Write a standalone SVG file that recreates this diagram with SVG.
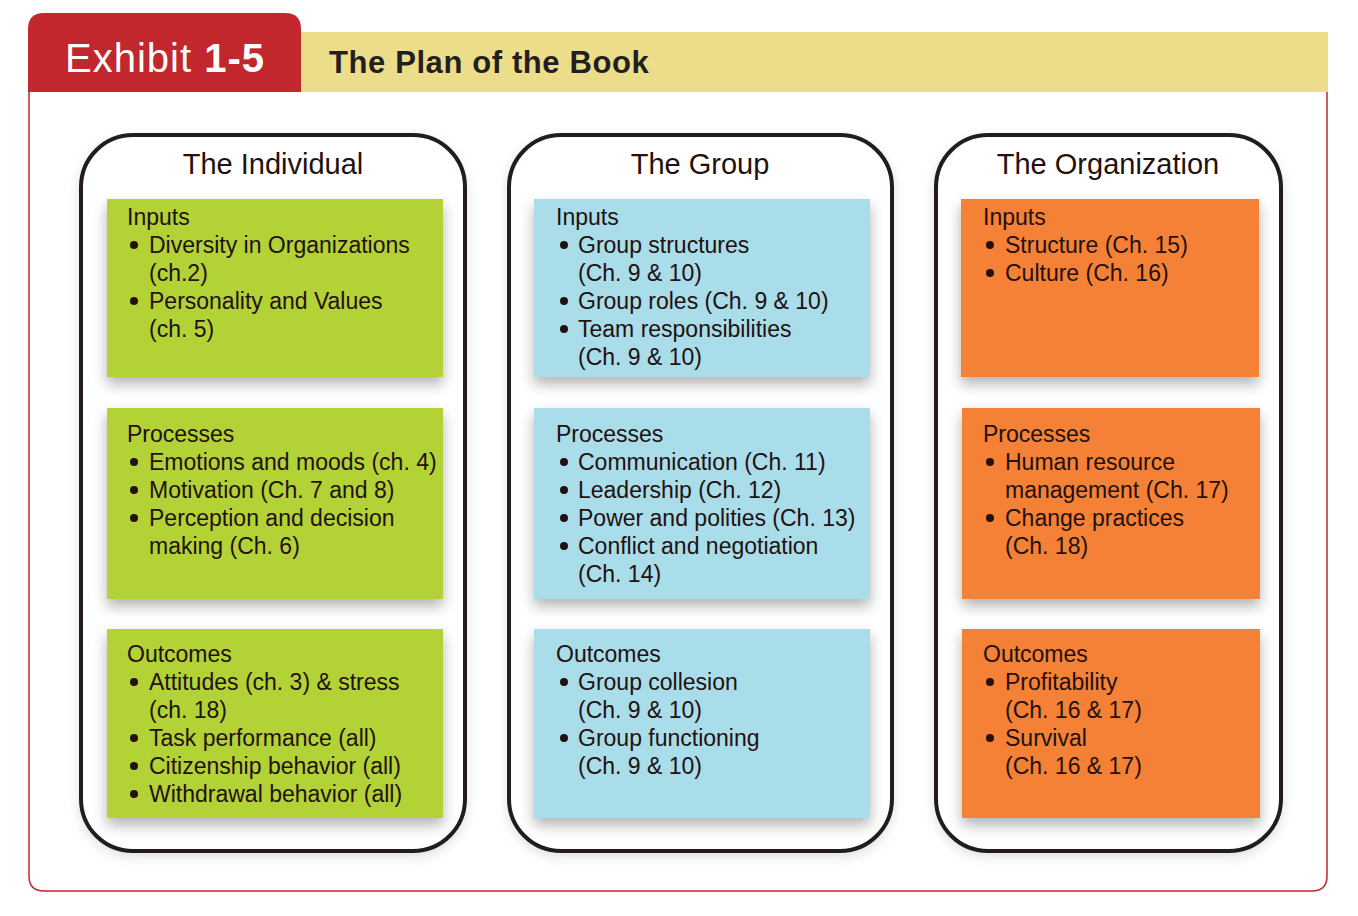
<svg xmlns="http://www.w3.org/2000/svg" width="1358" height="916" viewBox="0 0 1358 916">
<defs>
<filter id="sh" x="-10%" y="-10%" width="120%" height="130%">
<feDropShadow dx="0" dy="7" stdDeviation="7" flood-color="#000" flood-opacity="0.3"/>
</filter>
<filter id="sh2" x="-10%" y="-10%" width="120%" height="120%">
<feDropShadow dx="0" dy="4" stdDeviation="6" flood-color="#000" flood-opacity="0.12"/>
</filter>
<circle id="bul" r="4" fill="#231010"/>
</defs>
<style>
.col{fill:#fff;stroke:#231F20;stroke-width:4}
.g{fill:#B2D235}
.b{fill:#A8DDE9}
.o{fill:#F48134}
.t{font-family:"Liberation Sans",Arial,sans-serif;font-size:23px;fill:#231010}
.h{font-family:"Liberation Sans",Arial,sans-serif;font-size:29px;fill:#231010;text-anchor:middle}
</style>
<rect width="1358" height="916" fill="#fff"/>
<g id="frame">
<path d="M29,92 V876 Q29,891 44,891 H1312 Q1327,891 1327,876 V92" fill="none" stroke="#C1272D" stroke-width="1.5"/>
<rect x="301" y="32" width="1027" height="60" fill="#ECDD8A"/>
<path d="M28,92 V29 Q28,13 44,13 H285 Q301,13 301,29 V92 Z" fill="#C1272D"/>
<text x="65" y="72" font-family="Liberation Sans,Arial,sans-serif" font-size="40" letter-spacing="1" fill="#fff">Exhibit <tspan font-weight="bold">1-5</tspan></text>
<text x="329" y="73" font-family="Liberation Sans,Arial,sans-serif" font-size="31" font-weight="bold" letter-spacing="0.6" fill="#231F20">The Plan of the Book</text>
</g>

<g id="individual">
<rect class="col" x="81" y="135" width="384" height="716" rx="52" filter="url(#sh2)"/>
<text class="h" x="273" y="174">The Individual</text>
<g id="ind-inputs">
<rect class="g" x="107" y="199" width="336" height="178" filter="url(#sh)"/>
<use href="#bul" x="134" y="245"/><use href="#bul" x="134" y="301"/>
<text class="t"><tspan x="127" y="225">Inputs</tspan><tspan x="149" y="253">Diversity in Organizations</tspan><tspan x="149" y="281">(ch.2)</tspan><tspan x="149" y="309">Personality and Values</tspan><tspan x="149" y="337">(ch. 5)</tspan></text>
</g>
<g id="ind-processes">
<rect class="g" x="107" y="408" width="336" height="191" filter="url(#sh)"/>
<use href="#bul" x="134" y="462"/><use href="#bul" x="134" y="490"/><use href="#bul" x="134" y="518"/>
<text class="t"><tspan x="127" y="442">Processes</tspan><tspan x="149" y="470">Emotions and moods (ch. 4)</tspan><tspan x="149" y="498">Motivation (Ch. 7 and 8)</tspan><tspan x="149" y="526">Perception and decision</tspan><tspan x="149" y="554">making (Ch. 6)</tspan></text>
</g>
<g id="ind-outcomes">
<rect class="g" x="107" y="629" width="336" height="189" filter="url(#sh)"/>
<use href="#bul" x="134" y="682"/><use href="#bul" x="134" y="738"/><use href="#bul" x="134" y="766"/><use href="#bul" x="134" y="794"/>
<text class="t"><tspan x="127" y="662">Outcomes</tspan><tspan x="149" y="690">Attitudes (ch. 3) &amp; stress</tspan><tspan x="149" y="718">(ch. 18)</tspan><tspan x="149" y="746">Task performance (all)</tspan><tspan x="149" y="774">Citizenship behavior (all)</tspan><tspan x="149" y="802">Withdrawal behavior (all)</tspan></text>
</g>
</g>

<g id="group">
<rect class="col" x="509" y="135" width="383" height="716" rx="52" filter="url(#sh2)"/>
<text class="h" x="700" y="174">The Group</text>
<g id="grp-inputs">
<rect class="b" x="534" y="199" width="336" height="178" filter="url(#sh)"/>
<use href="#bul" x="564" y="245"/><use href="#bul" x="564" y="301"/><use href="#bul" x="564" y="329"/>
<text class="t"><tspan x="556" y="225">Inputs</tspan><tspan x="578" y="253">Group structures</tspan><tspan x="578" y="281">(Ch. 9 &amp; 10)</tspan><tspan x="578" y="309">Group roles (Ch. 9 &amp; 10)</tspan><tspan x="578" y="337">Team responsibilities</tspan><tspan x="578" y="365">(Ch. 9 &amp; 10)</tspan></text>
</g>
<g id="grp-processes">
<rect class="b" x="534" y="408" width="336" height="191" filter="url(#sh)"/>
<use href="#bul" x="564" y="462"/><use href="#bul" x="564" y="490"/><use href="#bul" x="564" y="518"/><use href="#bul" x="564" y="546"/>
<text class="t"><tspan x="556" y="442">Processes</tspan><tspan x="578" y="470">Communication (Ch. 11)</tspan><tspan x="578" y="498">Leadership (Ch. 12)</tspan><tspan x="578" y="526">Power and polities (Ch. 13)</tspan><tspan x="578" y="554">Conflict and negotiation</tspan><tspan x="578" y="582">(Ch. 14)</tspan></text>
</g>
<g id="grp-outcomes">
<rect class="b" x="534" y="629" width="336" height="189" filter="url(#sh)"/>
<use href="#bul" x="564" y="682"/><use href="#bul" x="564" y="738"/>
<text class="t"><tspan x="556" y="662">Outcomes</tspan><tspan x="578" y="690">Group collesion</tspan><tspan x="578" y="718">(Ch. 9 &amp; 10)</tspan><tspan x="578" y="746">Group functioning</tspan><tspan x="578" y="774">(Ch. 9 &amp; 10)</tspan></text>
</g>
</g>

<g id="organization">
<rect class="col" x="936" y="135" width="345" height="716" rx="52" filter="url(#sh2)"/>
<text class="h" x="1108" y="174">The Organization</text>
<g id="org-inputs">
<rect class="o" x="961" y="199" width="298" height="178" filter="url(#sh)"/>
<use href="#bul" x="990" y="245"/><use href="#bul" x="990" y="273"/>
<text class="t"><tspan x="983" y="225">Inputs</tspan><tspan x="1005" y="253">Structure (Ch. 15)</tspan><tspan x="1005" y="281">Culture (Ch. 16)</tspan></text>
</g>
<g id="org-processes">
<rect class="o" x="962" y="408" width="298" height="191" filter="url(#sh)"/>
<use href="#bul" x="990" y="462"/><use href="#bul" x="990" y="518"/>
<text class="t"><tspan x="983" y="442">Processes</tspan><tspan x="1005" y="470">Human resource</tspan><tspan x="1005" y="498">management (Ch. 17)</tspan><tspan x="1005" y="526">Change practices</tspan><tspan x="1005" y="554">(Ch. 18)</tspan></text>
</g>
<g id="org-outcomes">
<rect class="o" x="962" y="629" width="298" height="189" filter="url(#sh)"/>
<use href="#bul" x="990" y="682"/><use href="#bul" x="990" y="738"/>
<text class="t"><tspan x="983" y="662">Outcomes</tspan><tspan x="1005" y="690">Profitability</tspan><tspan x="1005" y="718">(Ch. 16 &amp; 17)</tspan><tspan x="1005" y="746">Survival</tspan><tspan x="1005" y="774">(Ch. 16 &amp; 17)</tspan></text>
</g>
</g>
</svg>
